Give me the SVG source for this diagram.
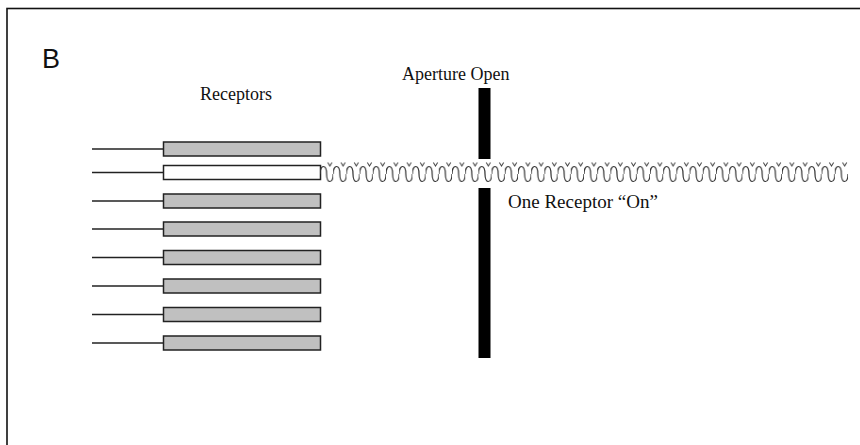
<svg xmlns="http://www.w3.org/2000/svg" width="860" height="445" viewBox="0 0 860 445">
<style>
.frame{fill:none;stroke:#111;stroke-width:1.6}
.rec{fill:#c0c0c0;stroke:#222;stroke-width:1.5}
.on{fill:#fff;stroke:#222;stroke-width:1.5}
.lead{stroke:#222;stroke-width:1.5;fill:none}
.bar{fill:#000}
.serif{font-family:"Liberation Serif","Times New Roman",serif;font-size:18px;fill:#111}
.sans{font-family:"Liberation Sans",Arial,sans-serif;font-size:27px;fill:#111}
</style>
<defs>
<pattern id="wave" patternUnits="userSpaceOnUse" x="320" y="160" width="13.2" height="25">
<path d="M0,14 C0,4 6.6,4 6.6,14 C6.6,24 13.2,24 13.2,14" fill="none" stroke="#333" stroke-width="1.2"/>
<path d="M7.8,2.5 L9.9,6 L12,2.5" fill="none" stroke="#444" stroke-width="1"/>
</pattern>
</defs>
<rect width="860" height="445" fill="#fff"/>
<rect class="frame" x="7" y="8.5" width="900" height="500"/>
<text class="sans" x="42" y="67.5">B</text>
<text class="serif" x="200" y="100">Receptors</text>
<text class="serif" x="402" y="80">Aperture Open</text>
<text class="serif" x="508" y="208" style="font-size:19px">One Receptor “On”</text>
<g id="connectors">
<line class="lead" x1="92" y1="149" x2="163.5" y2="149"/>
<line class="lead" x1="92" y1="172.5" x2="163.5" y2="172.5"/>
<line class="lead" x1="92" y1="201" x2="163.5" y2="201"/>
<line class="lead" x1="92" y1="229" x2="163.5" y2="229"/>
<line class="lead" x1="92" y1="257.5" x2="163.5" y2="257.5"/>
<line class="lead" x1="92" y1="286" x2="163.5" y2="286"/>
<line class="lead" x1="92" y1="314.5" x2="163.5" y2="314.5"/>
<line class="lead" x1="92" y1="343" x2="163.5" y2="343"/>
</g>
<g id="receptor1"><rect class="rec" x="163.5" y="142" width="157" height="14"/></g>
<g id="receptor2"><rect class="on" x="163.5" y="165.5" width="157" height="14"/></g>
<g id="receptor3"><rect class="rec" x="163.5" y="194" width="157" height="14"/></g>
<g id="receptor4"><rect class="rec" x="163.5" y="222" width="157" height="14"/></g>
<g id="receptor5"><rect class="rec" x="163.5" y="250.5" width="157" height="14"/></g>
<g id="receptor6"><rect class="rec" x="163.5" y="279" width="157" height="14"/></g>
<g id="receptor7"><rect class="rec" x="163.5" y="307.5" width="157" height="14"/></g>
<g id="receptor8"><rect class="rec" x="163.5" y="336" width="157" height="14"/></g>
<g id="aperture">
<rect class="bar" x="478.5" y="88" width="12" height="71"/>
<rect class="bar" x="478.5" y="188" width="12" height="170"/>
</g>
<g id="signal"><rect x="320" y="160" width="528" height="25" fill="url(#wave)"/></g>
</svg>
